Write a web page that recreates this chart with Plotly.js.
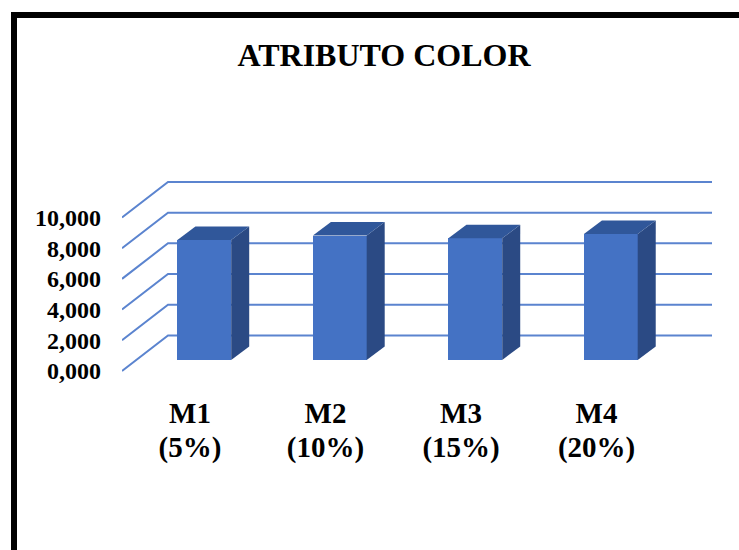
<!DOCTYPE html>
<html>
<head>
<meta charset="utf-8">
<script src="https://cdn.plot.ly/plotly-3.0.1.min.js"></script>
<style>
  html, body { margin: 0; padding: 0; background: #fff; overflow: hidden; }
  #chart { position: absolute; left: 0; top: 0; width: 739px; height: 550px; }
  #frame { position: absolute; left: 11px; top: 12px; width: 760px; height: 600px;
           border-top: 6px solid #000; border-left: 6px solid #000; pointer-events: none; }
</style>
</head>
<body>
<div id="chart"></div>
<div id="frame"></div>
<script>
// ---- data ----
const categories = ['M1', 'M2', 'M3', 'M4'];
const percents = ['(5%)', '(10%)', '(15%)', '(20%)'];
const values = [7.82, 8.10, 7.92, 8.21];
const yTicks = [0, 2, 4, 6, 8, 10];
const yTickLabels = ['0,000', '2,000', '4,000', '6,000', '8,000', '10,000'];

// ---- 3D look (style constants, axis units) ----
const XL = -0.502, XR = 3.852;      // x range
const YB = -1.242, YT = 13.742;     // y range
const DX = 0.3395, DY = 2.313;      // full floor depth offset
const F = 0.31;                     // depth of bar front face
const BDX = 0.133, BDY = 0.88;      // bar depth
const BW = 0.397;                   // bar width

const xs = categories.map((c, i) => i);
const traces = [];

// gridlines as shapes below the traces: left diagonal + back wall line
const shapes = yTicks.map(v => ({
  type: 'path', xref: 'x', yref: 'y', layer: 'below',
  path: 'M' + XL + ',' + v + ' L' + (XL + DX) + ',' + (v + DY) + ' L' + XR + ',' + (v + DY),
  line: {color: '#5B84CF', width: 2}
}));

// bars
const fx = F * DX, fy = F * DY;
values.forEach((v, i) => {
  const cx = xs[i] + fx;
  const xl = cx - BW / 2, xr = cx + BW / 2;
  const b = fy, t = fy + v;
  // side face
  traces.push({type: 'scatter', mode: 'lines', fill: 'toself',
    x: [xr, xr + BDX, xr + BDX, xr, xr], y: [b, b + BDY, t + BDY, t, b],
    line: {width: 0, color: '#2B4A84'}, fillcolor: '#2B4A84', hoverinfo: 'skip', showlegend: false});
  // top face
  traces.push({type: 'scatter', mode: 'lines', fill: 'toself',
    x: [xl, xr, xr + BDX, xl + BDX, xl], y: [t, t, t + BDY, t + BDY, t],
    line: {width: 0, color: '#30579A'}, fillcolor: '#30579A', hoverinfo: 'skip', showlegend: false});
});
// front faces
traces.push({type: 'bar', x: xs.map(x => x + fx), y: values, base: fy, width: BW,
  marker: {color: '#4472C4', line: {width: 0}}, hoverinfo: 'skip', showlegend: false});
// carrier for the second label row
traces.push({type: 'scatter', mode: 'markers', x: [xs[0]], y: [0], xaxis: 'x2',
  marker: {opacity: 0}, hoverinfo: 'skip', showlegend: false});

const xFont = {family: 'Liberation Serif', size: 29, color: '#000'};
const layout = {
  width: 739, height: 550,
  margin: {l: 122, r: 27, t: 160, b: 160},
  paper_bgcolor: '#fff', plot_bgcolor: 'rgba(0,0,0,0)',
  shapes: shapes,
  title: {text: '<b>ATRIBUTO COLOR</b>', font: {family: 'Liberation Serif', size: 32, color: '#000'},
          x: 384 / 739, xanchor: 'center', xref: 'container', y: 1 - 55 / 550, yref: 'container', yanchor: 'middle'},
  xaxis: {range: [XL, XR], showgrid: false, zeroline: false, showline: false,
          tickvals: xs, ticktext: categories.map(c => '<b>' + c + '</b>'),
          tickfont: xFont, ticks: '', ticklabelstandoff: 3},
  xaxis2: {range: [XL, XR], overlaying: 'x', side: 'bottom', showgrid: false, zeroline: false, showline: false,
          tickvals: xs, ticktext: percents.map(p => '<b>' + p + '</b>'),
          tickfont: xFont, ticks: '', ticklabelstandoff: 37},
  yaxis: {range: [YB, YT], showgrid: false, zeroline: false, showline: false,
          tickvals: yTicks, ticktext: yTickLabels.map(t => '<b>' + t + '</b>'),
          tickfont: {family: 'Liberation Serif', size: 24, color: '#000'}, ticks: '', ticklabelstandoff: 20},
  showlegend: false, bargap: 0
};

Plotly.newPlot('chart', traces, layout, {displayModeBar: false, staticPlot: true});
</script>
</body>
</html>
